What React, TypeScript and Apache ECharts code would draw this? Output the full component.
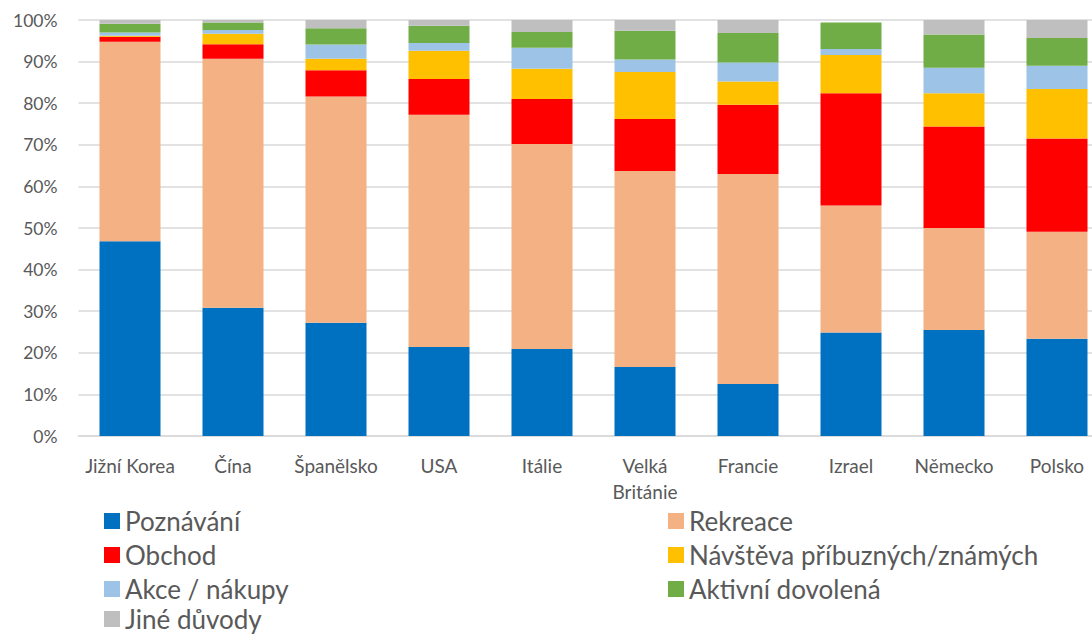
import React, { useEffect, useRef } from "react";
import * as echarts from "echarts";

const categories = ["Jižní Korea", "Čína", "Španělsko", "USA", "Itálie", "Velká Británie", "Francie", "Izrael", "Německo", "Polsko"];
const poznavani = [46.8, 30.8, 27.2, 21.4, 20.9, 16.6, 12.5, 24.9, 25.5, 23.4];
const rekreace = [48.0, 59.9, 54.4, 55.8, 49.3, 47.1, 50.5, 30.5, 24.5, 25.7];
const obchod = [1.2, 3.5, 6.3, 8.6, 10.8, 12.5, 16.6, 27.0, 24.4, 22.4];
const navsteva = [0.2, 2.5, 2.8, 6.8, 7.3, 11.3, 5.6, 9.2, 8.0, 11.9];
const akce = [0.8, 0.9, 3.4, 1.9, 5.0, 3.0, 4.6, 1.4, 6.1, 5.6];
const aktivni = [2.1, 1.8, 3.9, 4.1, 3.8, 6.9, 7.1, 6.4, 8.0, 6.7];
const jine = [0.9, 0.6, 2.0, 1.4, 2.9, 2.6, 3.1, 0.0, 3.5, 4.3];
const yTicks = [0, 10, 20, 30, 40, 50, 60, 70, 80, 90, 100];

const seriesDefs = [
  { name: "Poznávání", data: poznavani, color: "#0070C0" },
  { name: "Rekreace", data: rekreace, color: "#F4B183" },
  { name: "Obchod", data: obchod, color: "#FF0000" },
  { name: "Návštěva příbuzných/známých", data: navsteva, color: "#FFC000" },
  { name: "Akce / nákupy", data: akce, color: "#9DC3E6" },
  { name: "Aktivní dovolená", data: aktivni, color: "#70AD47" },
  { name: "Jiné důvody", data: jine, color: "#BFBFBF" },
];

export default function App() {
  const ref = useRef<HTMLDivElement>(null);
  useEffect(() => {
    if (!ref.current) return;
    const chart = echarts.init(ref.current, undefined, { renderer: "svg" });
    const textColor = "#595959";
    const font = "Lato, 'Noto Sans', sans-serif";
    const legendCommon = {
      orient: "vertical",
      icon: "rect",
      itemWidth: 16,
      itemHeight: 16,
      itemGap: 8,
      top: 503,
      height: 200,
      textStyle: { fontSize: 26, color: textColor, fontFamily: font, lineHeight: 25 },
    };
    chart.setOption({
      animation: false,
      textStyle: { fontFamily: font },
      grid: { left: 78.5, width: 1030, top: 20, height: 416 },
      legend: [
        { ...legendCommon, left: 99, data: ["Poznávání", "Obchod", "Akce / nákupy"] },
        { ...legendCommon, left: 99, top: 601, data: ["Jiné důvody"] },
        { ...legendCommon, left: 663, data: ["Rekreace", "Návštěva příbuzných/známých", "Aktivní dovolená"] },
      ],
      xAxis: {
        type: "category",
        data: categories,
        axisTick: { show: false },
        axisLine: { lineStyle: { color: "#d9d9d9", width: 1.5 } },
        axisLabel: {
          interval: 0,
          color: textColor,
          fontSize: 19,
          fontFamily: font,
          margin: 16,
          lineHeight: 26,
          formatter: (v: string) => v.replace("Velká ", "Velká\n"),
        },
      },
      yAxis: {
        type: "value",
        min: yTicks[0],
        max: yTicks[yTicks.length - 1],
        interval: 10,
        axisLabel: { color: textColor, fontSize: 17.5, fontFamily: font, margin: 21, formatter: "{value}%" },
        splitLine: { lineStyle: { color: "#d9d9d9", width: 1.5 } },
        axisLine: { show: false },
        axisTick: { show: false },
      },
      series: seriesDefs.map((s) => ({
        name: s.name,
        type: "bar",
        stack: "total",
        barWidth: 61,
        data: s.data,
        itemStyle: { color: s.color },
      })),
    });
    return () => chart.dispose();
  }, []);
  return (
    <div style={{ position: "fixed", left: 0, top: 0, width: 1092, height: 634, overflow: "hidden", background: "#fff" }}>
      <div ref={ref} style={{ width: 1110, height: 634 }} />
    </div>
  );
}
